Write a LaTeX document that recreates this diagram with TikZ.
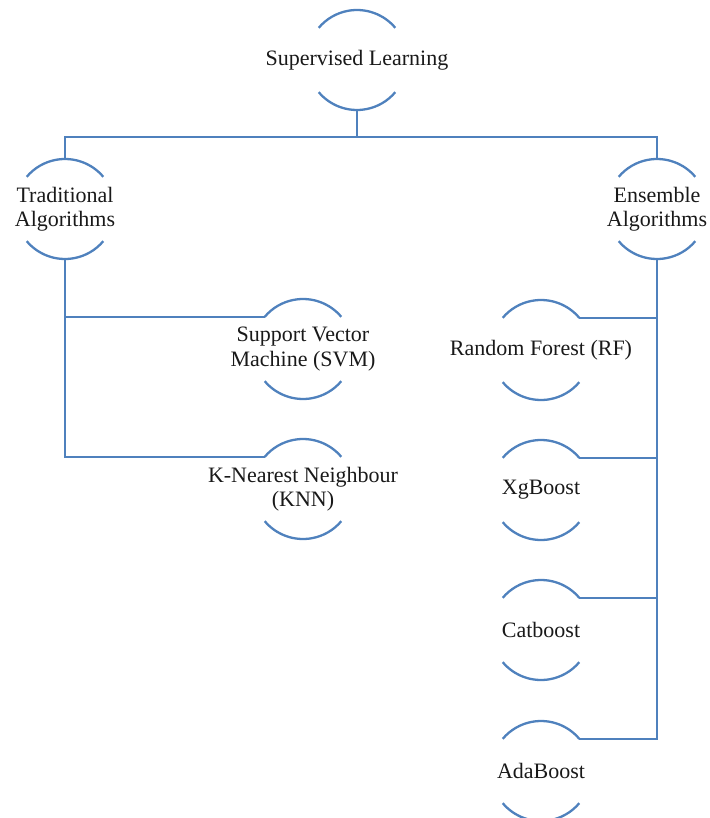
\documentclass[tikz,border=0pt]{standalone}
\usepackage{fontspec}
\setmainfont{Liberation Serif}
\definecolor{linecol}{HTML}{4F81BD}
\begin{document}
\begin{tikzpicture}[x=1pt,y=-1pt,
  conn/.style={draw=linecol, line width=2.3pt},
  lbl/.style={align=center, font=\fontsize{22}{24.5}\selectfont, inner sep=0pt, text=black!90},
  topic/.style={circle, minimum size=100pt, inner sep=0pt, outer sep=0pt,
    label={[lbl]center:{#1}}}]
  \useasboundingbox (0,0) rectangle (709,818);

  % category nodes
  \node[topic={Supervised Learning}] (sup) at (357,60) {};
  \node[topic={Traditional\\Algorithms}] (trad) at (65,209) {};
  \node[topic={Ensemble\\Algorithms}] (ens) at (657,209) {};

  % traditional methods
  \node[topic={Support Vector\\Machine (SVM)}] (svm) at (303,349) {};
  \node[topic={K-Nearest Neighbour\\(KNN)}] (knn) at (303,489) {};

  % ensemble methods
  \node[topic={Random Forest (RF)}] (rf) at (541,350) {};
  \node[topic={XgBoost}] (xg) at (541,490) {};
  \node[topic={Catboost}] (cat) at (541,630) {};
  \node[topic={AdaBoost}] (ada) at (541,771) {};

  % upper and lower arcs around every node
  \foreach \n in {sup,trad,ens,svm,knn,rf,xg,cat,ada} {
    \draw[conn] (\n.40) arc[start angle=40, end angle=140, radius=50pt];
    \draw[conn] (\n.220) arc[start angle=220, end angle=320, radius=50pt];
  }

  % tree connectors
  \coordinate (bus) at (357,137);
  \draw[conn] (sup.south) -- (bus);
  \draw[conn] (trad.north) -- (trad.north |- bus) -- (ens.north |- bus) -- (ens.north);

  \draw[conn] (trad.south) |- (knn.140);
  \draw[conn] (trad.south |- svm.140) -- (svm.140);

  \draw[conn] (ens.south) |- (ada.40);
  \draw[conn] (rf.40) -- (rf.40 -| ens.south);
  \draw[conn] (xg.40) -- (xg.40 -| ens.south);
  \draw[conn] (cat.40) -- (cat.40 -| ens.south);
\end{tikzpicture}
\end{document}
